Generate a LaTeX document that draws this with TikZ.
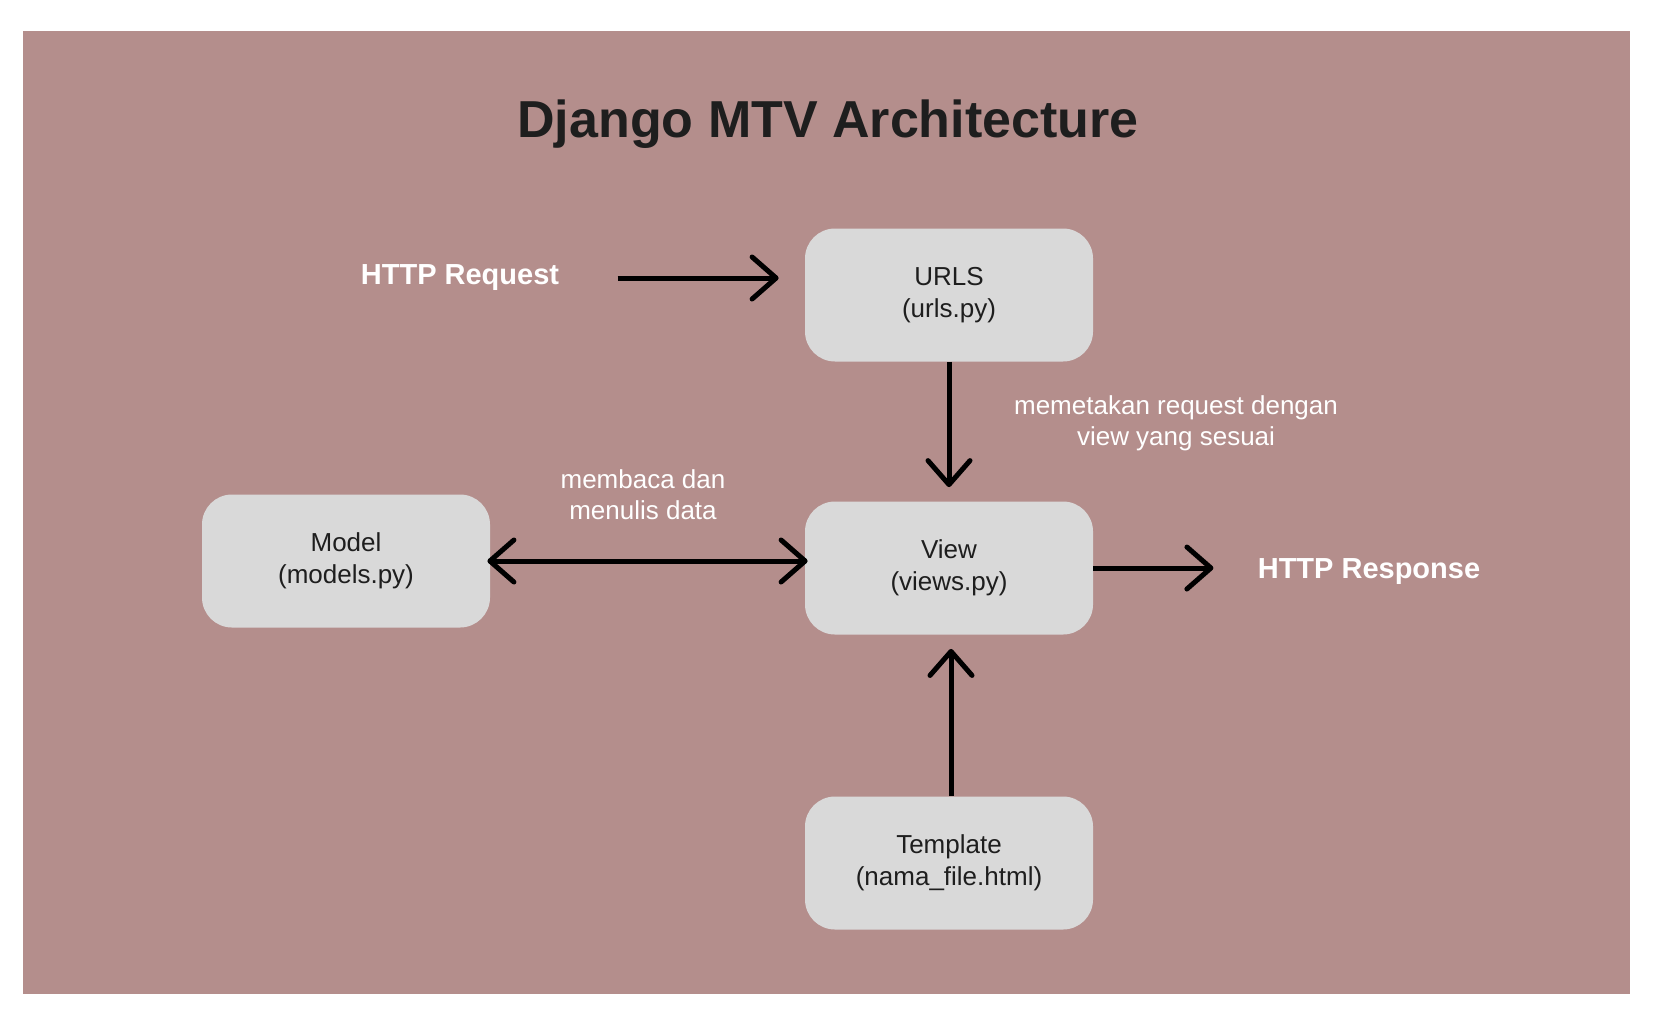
\documentclass[tikz,border=0pt]{standalone}
\usepackage{fontspec}
\setmainfont{Liberation Sans}
\usetikzlibrary{arrows.meta}

\definecolor{bgrose}{HTML}{B48E8C}
\definecolor{boxgray}{HTML}{D9D9D9}
\definecolor{inkdark}{HTML}{1E1E1E}

\tikzset{
  component/.style={fill=boxgray, rounded corners=15pt, minimum width=144pt,
    minimum height=66.5pt, inner sep=0pt, align=center, text=inkdark,
    font=\fontsize{13}{16}\selectfont},
  flowlabel/.style={text=white, align=center, inner sep=0pt,
    font=\fontsize{13}{15.5}\selectfont},
  endpoint/.style={text=white, inner sep=0pt,
    font=\bfseries\fontsize{14.5}{17}\selectfont},
  flow/.style={line width=2.5pt, ->},
}

\begin{document}
\begin{tikzpicture}[x=0.5pt, y=-0.5pt,
    >={Straight Barb[length=12pt, width=21pt, round]}]

        \useasboundingbox (0,0) rectangle (1657,1023);
        \fill[bgrose] (23,31) rectangle (1630,994);

        % Title
        \node[anchor=base, inner sep=0pt, text=inkdark,
          font=\bfseries\fontsize{26}{30}\selectfont] (title) at (828,137)
          {Django MTV Architecture};

        % Defining the components
        \node[component] (urls) at (949,295) {URLS\\(urls.py)};
        \node[component] (view) at (949,568) {View\\(views.py)};
        \node[component] (model) at (346,561) {Model\\(models.py)};
        \node[component] (template) at (949,863) {Template\\(nama\_file.html)};

        % Request and response
        \node[endpoint] (request) at (460,278) {HTTP Request};
        \node[endpoint] (response) at (1369,572) {HTTP Response};

        % Labels of the links
        \node[flowlabel] (maplabel) at (1176,423) {memetakan request dengan\\view yang sesuai};
        \node[flowlabel] (datalabel) at (643,495) {membaca dan\\menulis data};

        % Defining the links between the components
        \draw[flow, shorten <=29pt, shorten >=13pt] (request.east) -- (request.east -| urls.west);
        \draw[flow, shorten >=7pt] (urls.south) -- (view.north);
        \draw[flow, <->, shorten <=-1.5pt, shorten >=-1.5pt] (model.east) -- (model.east -| view.west);
        \draw[flow, shorten >=22pt] (view.east) -- (view.east -| response.west);
        \draw[flow, shorten >=7pt] ([xshift=1pt]template.north) -- ([xshift=1pt]view.south);

\end{tikzpicture}
\end{document}
